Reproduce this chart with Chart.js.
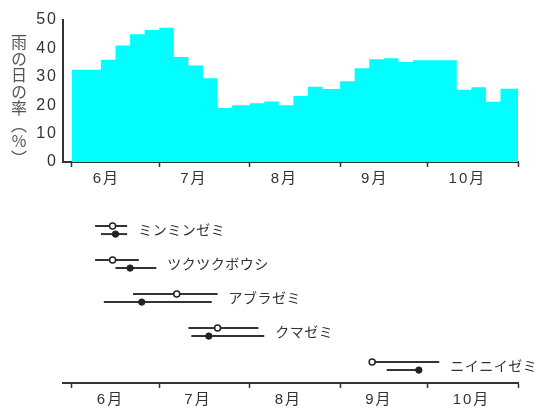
<!DOCTYPE html>
<html>
<head>
<meta charset="utf-8">
<script src="https://cdn.jsdelivr.net/npm/chart.js@4/dist/chart.umd.min.js"></script>
<style>
  body { margin: 0; background: #fff; }
  #wrap { position: relative; width: 548px; height: 409px; overflow: hidden; }
  #top { position: absolute; left: 0; top: 0; width: 548px; height: 200px; }
  #bottom { position: absolute; left: 0; top: 200px; width: 548px; height: 209px; }
  #ytitle {
    position: absolute; left: 7px; top: 34px;
    writing-mode: vertical-rl;
    font: 16px "Noto Sans CJK JP";
    letter-spacing: 0.5px;
    color: #555;
  }
  #ytitle .up { text-orientation: upright; }
</style>
</head>
<body>
<div id="wrap">
  <div id="top"><canvas id="rain"></canvas></div>
  <div id="bottom"><canvas id="semi"></canvas></div>
  <div id="ytitle">雨の日の率（<span class="up">％</span>）</div>
</div>
<script>
// months shown on both axes (Jun - Oct)
const months = ["6月", "7月", "8月", "9月", "10月"];
const monthDays = [30, 31, 31, 30, 31];

// rainy day ratio (%) for each pentad, 6 per month
const rainRate = [
  32.5, 32.5, 36, 41, 45, 46.5,
  47.3, 37, 34, 29.5, 19, 20,
  20.7, 21.3, 20, 23.2, 26.5, 25.7,
  28.4, 33, 36.2, 36.5, 35.2, 35.8,
  35.8, 35.8, 25.4, 26.3, 21.2, 25.8
];
const yTicks = [0, 10, 20, 30, 40, 50];

// cicadas: days counted from June 1
const cicadas = ["ミンミンゼミ", "ツクツクボウシ", "アブラゼミ", "クマゼミ", "ニイニイゼミ"];
const openStart = [8, 8, 21, 40, 102];
const openPeak  = [14, 14, 36, 50, 103];
const openEnd   = [19, 23, 50, 64, 126];
const fillStart = [10, 15, 11, 41, 108];
const fillPeak  = [15, 20, 24, 47, 119];
const fillEnd   = [19, 29, 48, 66, 120];

// month boundaries in days
const bounds = [0];
monthDays.forEach(d => bounds.push(bounds[bounds.length - 1] + d));

// pentad start days -> stepped points
const rainPoints = [];
for (let m = 0; m < months.length; m++) {
  for (let p = 0; p < 6; p++) {
    rainPoints.push({ x: bounds[m] + p * 5, y: rainRate[m * 6 + p] });
  }
}
rainPoints.push({ x: bounds[bounds.length - 1], y: rainRate[rainRate.length - 1] });

const FONT = '"Liberation Sans", "Noto Sans CJK JP", sans-serif';

function monthAxis(offset, height) {
  const labelPos = bounds.slice(0, months.length).map(b => b + offset);
  return {
    type: 'linear',
    min: -3,
    max: bounds[bounds.length - 1],
    border: { color: '#333', width: 2 },
    grid: {
      drawOnChartArea: false,
      tickLength: 5,
      tickWidth: 1.5,
      tickColor: c => (c.tick && bounds.includes(c.tick.value)) ? '#333' : 'rgba(0,0,0,0)'
    },
    afterBuildTicks: s => {
      s.ticks = bounds.concat(labelPos).sort((a, b) => a - b).map(v => ({ value: v }));
    },
    afterFit: s => { s.height = height; },
    ticks: {
      autoSkip: false,
      align: 'start',
      padding: 3,
      color: '#333',
      font: { size: 15, family: FONT },
      callback: v => {
        const i = labelPos.indexOf(v);
        return i >= 0 ? months[i] : '';
      }
    }
  };
}

const spaced = {
  id: 'spaced',
  beforeDraw(chart) { chart.ctx.letterSpacing = '2px'; }
};

new Chart(document.getElementById('rain'), {
  type: 'line',
  data: {
    datasets: [{
      data: rainPoints,
      stepped: true,
      fill: 'origin',
      backgroundColor: '#00ffff',
      borderWidth: 0,
      pointRadius: 0
    }]
  },
  options: {
    responsive: true,
    maintainAspectRatio: false,
    animation: false,
    layout: { padding: { top: 20, right: 30, left: 0, bottom: 0 } },
    plugins: { legend: { display: false }, tooltip: { enabled: false } },
    scales: {
      x: monthAxis(7.2, 38),
      y: {
        min: 0,
        max: 50,
        afterBuildTicks: s => { s.ticks = yTicks.map(v => ({ value: v })); },
        afterFit: s => { s.width = 63; },
        border: { color: '#333', width: 2 },
        grid: { drawOnChartArea: false, drawTicks: false },
        ticks: { padding: 5, color: '#333', font: { size: 16, family: FONT } }
      }
    }
  },
  plugins: [spaced]
});

// cicada rows: open circle line above, filled circle line below
const semiSets = [];
cicadas.forEach((name, k) => {
  semiSets.push({
    data: [{ x: openStart[k], y: k - 0.12 }, { x: openPeak[k], y: k - 0.12 }, { x: openEnd[k], y: k - 0.12 }],
    borderColor: '#333',
    borderWidth: 2,
    pointRadius: [0, 3, 0],
    pointBackgroundColor: '#fff',
    pointBorderColor: '#222',
    pointBorderWidth: 1.5
  });
  semiSets.push({
    data: [{ x: fillStart[k], y: k + 0.12 }, { x: fillPeak[k], y: k + 0.12 }, { x: fillEnd[k], y: k + 0.12 }],
    borderColor: '#333',
    borderWidth: 2,
    pointRadius: [0, 3.2, 0],
    pointBackgroundColor: '#222',
    pointBorderColor: '#222',
    pointBorderWidth: 1
  });
});

const nameLabels = {
  id: 'nameLabels',
  afterDatasetsDraw(chart) {
    const { ctx, scales: { x, y } } = chart;
    ctx.save();
    ctx.font = '14px "Noto Sans CJK JP"';
    ctx.letterSpacing = '0.5px';
    ctx.fillStyle = '#333';
    ctx.textBaseline = 'middle';
    ctx.textAlign = 'left';
    cicadas.forEach((name, k) => {
      const end = Math.max(openEnd[k], fillEnd[k]);
      ctx.fillText(name, x.getPixelForValue(end) + 11, y.getPixelForValue(k));
    });
    ctx.restore();
  }
};

new Chart(document.getElementById('semi'), {
  type: 'line',
  data: { datasets: semiSets },
  options: {
    responsive: true,
    maintainAspectRatio: false,
    animation: false,
    layout: { padding: { top: 13, right: 30, left: 63, bottom: 0 } },
    plugins: { legend: { display: false }, tooltip: { enabled: false } },
    scales: {
      x: monthAxis(8.6, 26),
      y: { type: 'linear', reverse: true, min: -0.5, max: 4.5, display: false }
    }
  },
  plugins: [spaced, nameLabels]
});
</script>
</body>
</html>
